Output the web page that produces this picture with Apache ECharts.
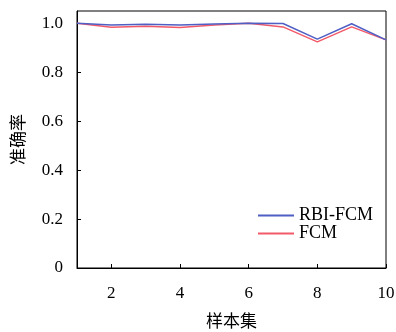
<!DOCTYPE html>
<html><head><meta charset="utf-8">
<script src="https://cdn.jsdelivr.net/npm/echarts@6/dist/echarts.min.js"></script>
<style>html,body{margin:0;padding:0;background:#fff}#c{width:396px;height:332px}</style>
</head><body><div id="c"></div>
<script>
const samples = [1,2,3,4,5,6,7,8,9,10];
const rbiFcm = [1.0, 0.993, 0.996, 0.993, 0.997, 1.0, 0.999, 0.935, 0.998, 0.932];
const fcm = [1.0, 0.984, 0.988, 0.983, 0.993, 1.0, 0.985, 0.924, 0.985, 0.932];
const xTicks = [2,4,6,8,10];
const yTicks = [0,0.2,0.4,0.6,0.8,1.0];
const seriesNames = ['RBI-FCM','FCM'];
const xName = '样本集', yName = '准确率';

const serif = '"Liberation Serif", "DejaVu Serif", serif';
const cjk = '"Noto Sans CJK SC", sans-serif';
const chart = echarts.init(document.getElementById('c'));
chart.setOption({
  animation:false,
  grid:{left:77,right:10,top:11,bottom:64,show:true,borderColor:'#000',borderWidth:1,
    containLabel:false,outerBoundsMode:'none'},
  legend:{
    orient:'vertical', left:258, top:206.5, itemGap:0, itemWidth:36, itemHeight:2,
    icon:'rect', padding:0,
    textStyle:{fontFamily:serif,fontSize:18,lineHeight:15,color:'#000'},
    data:seriesNames
  },
  xAxis:{
    type:'value', min:1, max:10,
    name:xName, nameLocation:'middle', nameGap:44,
    nameTextStyle:{fontFamily:cjk,fontSize:17,color:'#000'},
    axisLine:{lineStyle:{color:'#000'}},
    axisTick:{inside:true,length:4,customValues:xTicks,lineStyle:{color:'#000'}},
    axisLabel:{customValues:xTicks,fontFamily:serif,fontSize:17,color:'#000',margin:17},
    splitLine:{show:false}
  },
  yAxis:{
    type:'value', min:0, max:1.05,
    name:yName, nameLocation:'middle', nameGap:51,
    nameTextStyle:{fontFamily:cjk,fontSize:17,color:'#000'},
    axisLine:{lineStyle:{color:'#000'}},
    axisTick:{inside:true,length:4,customValues:yTicks,lineStyle:{color:'#000'}},
    axisLabel:{customValues:yTicks,fontFamily:serif,fontSize:17,color:'#000',margin:14,
      formatter:v=> v===0?'0':v.toFixed(1)},
    splitLine:{show:false}
  },
  series:[
    {name:seriesNames[0],type:'line',symbol:'none',data:samples.map((x,i)=>[x,rbiFcm[i]]),
      lineStyle:{color:'#4f5fc4',width:1.5},itemStyle:{color:'#4f5fc4'},z:3},
    {name:seriesNames[1],type:'line',symbol:'none',data:samples.map((x,i)=>[x,fcm[i]]),
      lineStyle:{color:'#f25a6a',width:1.5},itemStyle:{color:'#f25a6a'},z:2}
  ]
});
</script></body></html>
